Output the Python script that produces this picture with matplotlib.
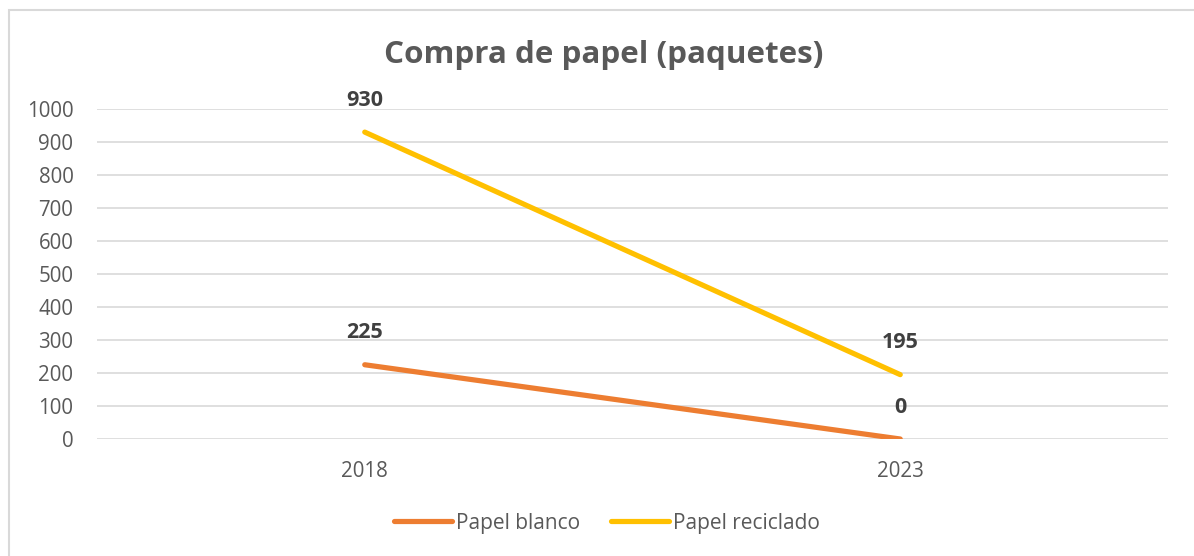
import matplotlib
matplotlib.use("Agg")
import matplotlib.pyplot as plt
from matplotlib.patches import Rectangle

categories = ["2018", "2023"]
papel_blanco = [225, 0]
papel_reciclado = [930, 195]
series_names = ["Papel blanco", "Papel reciclado"]
yticks = list(range(0, 1001, 100))

plt.rcParams['font.family'] = ['Open Sans', 'DejaVu Sans']
text_color = "#595959"

fig = plt.figure(figsize=(11.94, 5.56), dpi=100)
ax = fig.add_axes([97/1194, 1-439/556, (1168-97)/1194, (439-109)/556])

# chart border (left/top visible)
fig.patches.append(Rectangle((9/1194, -0.1), 1.2, (1-10/556)+0.1, transform=fig.transFigure,
                             fill=False, edgecolor="#d9d9d9", linewidth=1.5))

x = list(range(len(categories)))
colors = ["#ED7D31", "#FFC000"]
for vals, name, c in zip([papel_blanco, papel_reciclado], series_names, colors):
    ax.plot(x, vals, color=c, lw=3.75, solid_capstyle="round", label=name, zorder=3)
    for xi, v in zip(x, vals):
        ax.annotate(str(v), (xi, v), xytext=(0, 23), textcoords="offset points",
                    ha="center", va="center", fontsize=15.5, fontweight="bold",
                    color="#404040")

ax.set_xlim(-0.5, len(categories) - 0.5)
ax.set_ylim(0, 1000)
ax.set_yticks(yticks)
ax.set_xticks(x)
ax.set_xticklabels(categories)
ax.grid(axis="y", color="#d9d9d9", lw=1.2)
ax.set_axisbelow(True)
for s in ax.spines.values():
    s.set_visible(False)
ax.tick_params(length=0, labelsize=14.8, labelcolor=text_color)
ax.tick_params(axis="y", pad=17)
ax.tick_params(axis="x", pad=16)

fig.text(604/1194, 1-55/556, "Compra de papel (paquetes)", ha="center", va="center",
         fontsize=22.6, fontweight="bold", color=text_color)

leg = fig.legend(loc="center", bbox_to_anchor=(607/1194, 1-523/556), ncol=2, frameon=False,
                 fontsize=15, handlelength=2.75, columnspacing=1.5, handletextpad=0.2)
for t in leg.get_texts():
    t.set_color(text_color)

fig.savefig("out.png", dpi=100)
